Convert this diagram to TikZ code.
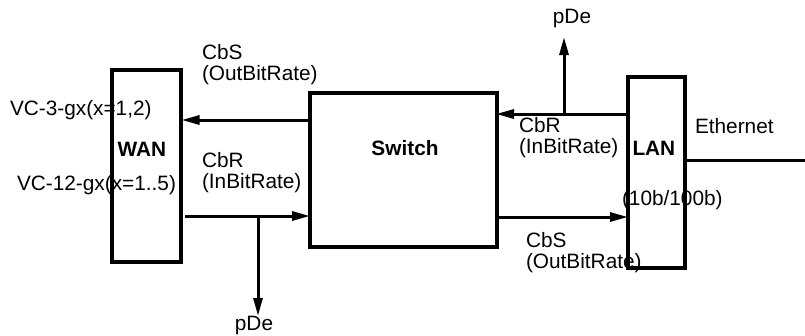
\documentclass[tikz,border=0pt]{standalone}
\usepackage{fontspec}
\setmainfont{Liberation Sans}
\usetikzlibrary{arrows.meta}
\begin{document}
\begin{tikzpicture}[x=1pt,y=-1pt,
  box/.style={draw, line width=3.2pt, inner sep=0pt, outer sep=0pt},
  lbl/.style={inner sep=0pt, outer sep=0pt, anchor=west, align=left, font=\fontsize{20.8}{21.5}\selectfont},
  bold/.style={inner sep=0pt, outer sep=0pt, font=\fontsize{20.8}{24}\selectfont\bfseries},
  conn/.style={line width=3pt},
  arr/.style={conn, -{Triangle[length=18pt,width=9pt]}}]
\useasboundingbox (0,0) rectangle (805,335);
% boxes
\node[box, minimum width=69pt, minimum height=192pt] (wan) at (146.5,166) {};
\node[box, minimum width=187pt, minimum height=154pt] (sw) at (403.5,170) {};
\node[box, minimum width=57pt, minimum height=191pt] (lan) at (656.5,172.5) {};
% labels
\node[bold] (wanl) at (142,149) {WAN};
\node[bold] (swl) at (405,148) {Switch};
\node[bold, anchor=west] (lanl) at (632.5,148.3) {LAN};
\node[lbl] (cbs1) at (202,64.7) {CbS\\(OutBitRate)};
\node[lbl] (vc3) at (10,110) {VC-3-gx(x=1,2)};
\node[lbl] (vc12) at (17,185) {VC-12-gx(x=1..5)};
\node[lbl] (cbr1) at (202,172.5) {CbR\\(InBitRate)};
\node[lbl] (cbr2) at (519,137.5) {CbR\\(InBitRate)};
\node[lbl] (eth) at (695,126) {Ethernet};
\node[lbl] (rate) at (622,200) {(10b/100b)};
\node[lbl] (cbs2) at (526,252.4) {CbS\\(OutBitRate)};
\node[lbl, anchor=center] (pde1) at (254,325) {pDe};
\node[lbl, anchor=center] (pde2) at (572,19) {pDe};
% helper coordinates
\coordinate (ya) at (0,120);
\coordinate (yb) at (0,216);
\coordinate (yc) at (0,114);
\coordinate (yd) at (0,217);
\coordinate (ye) at (0,160);
\coordinate (xb) at (258,0);
\coordinate (xc) at (564,0);
\coordinate (tipb) at (258,316);
\coordinate (tipc) at (564,37);
\coordinate (ethend) at (805,160);
% connectors
\draw[arr, shorten >=0.5pt] (sw.west |- ya) -- (wan.east |- ya);
\draw[arr] ([xshift=4pt]wan.east |- yb) -- (sw.west |- yb);
\draw[arr] (xb |- yb) -- (tipb);
\draw[arr, shorten >=-1pt] (lan.west |- yc) -- (sw.east |- yc);
\draw[arr] (xc |- yc) -- (tipc);
\draw[arr] (sw.east |- yd) -- (lan.west |- yd);
\draw[conn] (lan.east |- ye) -- (ethend);
\end{tikzpicture}
\end{document}
